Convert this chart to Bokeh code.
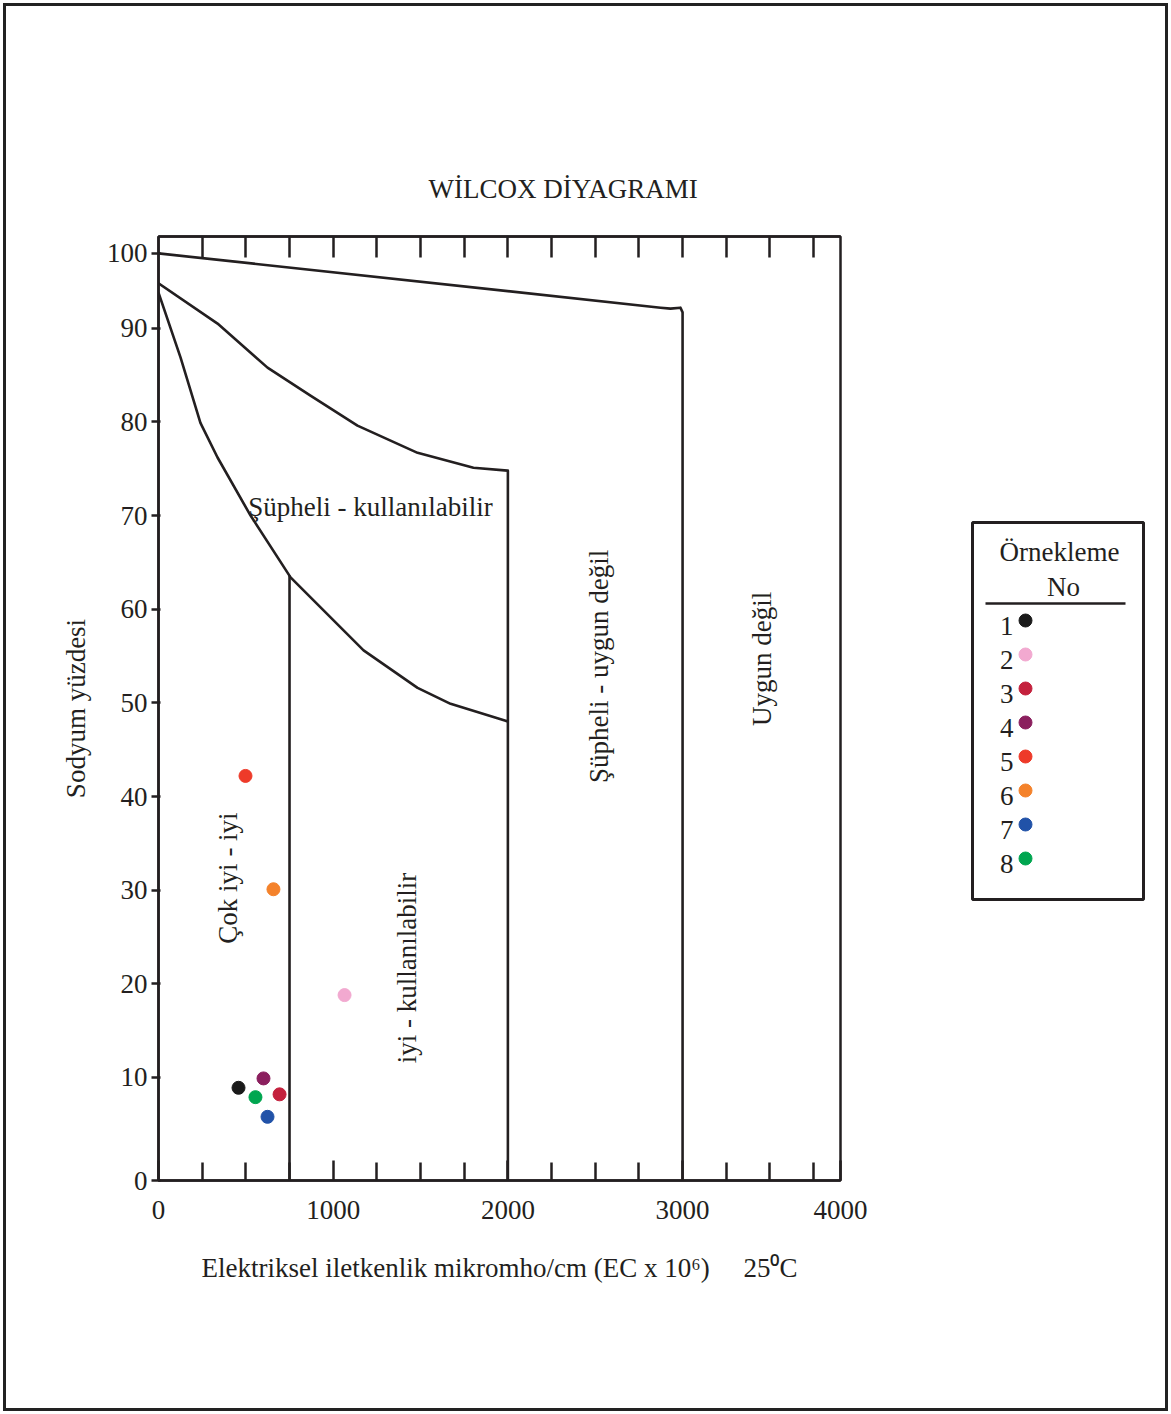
import numpy as np
from bokeh.plotting import figure
from bokeh.layouts import row
from bokeh.models import Range1d, FixedTicker, LinearAxis, Label, Title
from bokeh.core.properties import value
from bokeh.embed import file_html
from bokeh.resources import INLINE

# ---- sample data: EC (micromho/cm) and sodium percentage ----
sample_no = ["1", "2", "3", "4", "5", "6", "7", "8"]
ec = [458, 1065, 693, 601, 498, 658, 624, 555]
na_pct = [8.9, 18.8, 8.2, 9.9, 42.2, 30.1, 5.8, 7.9]
sample_colors = ["#1a1a1a", "#f2a9d0", "#c4213d", "#8b1f5e",
                 "#ee3a29", "#f4822b", "#2152a8", "#00a650"]

# ---- Wilcox class boundaries ----
top_ec = [0, 2874, 2931, 2988, 3000, 3000]
top_na = [98.0, 92.2, 92.1, 92.2, 91.7, -1]
mid_ec = [0, 338, 624, 870, 1139, 1483, 1803, 1998, 2000, 2000]
mid_na = [94.8, 90.5, 85.8, 82.8, 79.6, 76.7, 75.1, 74.8, 74.8, -1]
low_ec = [0, 126, 240, 338, 527, 756, 1174, 1483, 1672, 1987, 2000]
low_na = [93.8, 86.9, 79.9, 76.2, 70.0, 63.4, 55.6, 51.6, 49.9, 48.1, 48.0]
div_ec = [750, 750]
div_na = [63.6, -1]

# ---- axis ticks ----
y_ticks = [-1, 10, 20, 30, 40, 50, 60, 70, 80, 90, 98]
y_tick_labels = ["0", "10", "20", "30", "40", "50", "60", "70", "80", "90", "100"]
x_ticks = [0, 1000, 2000, 3000, 3904]
x_tick_labels = ["0", "1000", "2000", "3000", "4000"]
x_minor = [250, 500, 750, 1250, 1500, 1750, 2250, 2500, 2750, 3250, 3500, 3750]
x_top_ticks = [250, 500, 750, 1000, 1250, 1500, 1750, 2000,
               2250, 2500, 2750, 3000, 3250, 3500, 3750]

FONT = "Liberation Serif"
INK = "#231f20"

H = 1414
MAIN_W = 950
FL, FR, FT, FB = 158, 840, 236, 1180          # plot frame in canvas pixels
X0, X1 = 0, 3904
Y0, Y1 = -1, 99.8

p = figure(width=MAIN_W, height=H, x_range=Range1d(X0, X1), y_range=Range1d(Y0, Y1),
           x_axis_type=None, y_axis_type=None, output_backend="svg",
           toolbar_location=None, title=None,
           min_border_left=FL, min_border_right=MAIN_W - FR,
           min_border_top=FT, min_border_bottom=H - FB)
p.outline_line_color = INK
p.outline_line_width = 2.5
p.background_fill_color = "white"
p.border_fill_alpha = 0

# ---- axes ----
left = LinearAxis(ticker=FixedTicker(ticks=y_ticks, minor_ticks=[]),
                  major_label_overrides=dict(zip(y_ticks, y_tick_labels)),
                  axis_label="Sodyum yüzdesi")
left.major_tick_out = 7
left.major_tick_in = 2
left.major_label_standoff = 4
left.minor_tick_in = 0
left.minor_tick_out = 0
left.axis_label_standoff = 13
p.add_layout(left, "left")

nb = "\u00a0"
bottom = LinearAxis(ticker=FixedTicker(ticks=x_ticks, minor_ticks=x_minor),
                    major_label_overrides=dict(zip(x_ticks, x_tick_labels)),
                    axis_label="Elektriksel iletkenlik mikromho/cm (EC x 10\u2076)"
                               + nb * 5 + "25\u2070C")
bottom.major_tick_in = 20
bottom.major_tick_out = 0
bottom.minor_tick_in = 18
bottom.minor_tick_out = 0
bottom.major_label_standoff = 20
bottom.axis_label_standoff = 31
p.add_layout(bottom, "below")

# top edge carries tick marks only
top = LinearAxis(ticker=FixedTicker(ticks=[], minor_ticks=x_top_ticks))
top.major_tick_in = 0
top.major_tick_out = 0
top.minor_tick_in = 21
top.minor_tick_out = 0
p.add_layout(top, "above")

for ax in (left, bottom, top):
    ax.axis_line_color = INK
    ax.axis_line_width = 2.5
    ax.major_tick_line_color = INK
    ax.minor_tick_line_color = INK
    ax.major_tick_line_width = 2.5
    ax.minor_tick_line_width = 2.5
    ax.major_label_text_font = FONT
    ax.major_label_text_color = INK
    ax.axis_label_text_font = FONT
    ax.axis_label_text_font_size = "27px"
    ax.axis_label_text_font_style = "normal"
    ax.axis_label_text_color = INK
for ax in (left, bottom):
    ax.major_label_text_font_size = "27px"

p.add_layout(Title(text="WİLCOX DİYAGRAMI", align="left", offset=270, standoff=66,
                   text_font=FONT, text_font_size="27px", text_font_style="normal",
                   text_color=INK), "above")

# ---- boundary lines ----
for xs, ys in ((top_ec, top_na), (mid_ec, mid_na), (low_ec, low_na), (div_ec, div_na)):
    p.line(xs, ys, line_color=INK, line_width=2.6, line_join="round")

# ---- samples ----
p.scatter(ec, na_pct, size=13, marker="circle",
          fill_color=sample_colors, line_color=sample_colors)

# ---- class names ----
def zone(text, x, y, angle=0.0):
    p.add_layout(Label(x=x, y=y, text=text, text_font=FONT, text_font_size="27px",
                       text_color=INK, text_align="center", text_baseline="middle",
                       angle=angle))


zone("Şüpheli - kullanılabilir", 1213, 70.9)
zone("Çok iyi - iyi", 400, 31.3, np.pi / 2)
zone("iyi - kullanılabilir", 1425, 21.7, np.pi / 2)
zone("Şüpheli - uygun değil", 2519, 53.9, np.pi / 2)
zone("Uygun değil", 3457, 54.7, np.pi / 2)

# ---- sample legend (own small panel to the right, rows counted downwards) ----
LW = 1171 - MAIN_W
ROW0, ROW_H = 620, 34
row_idx = list(range(len(sample_no)))


def rows(py):
    return (py - ROW0) / ROW_H


lg = figure(width=LW, height=H,
            x_range=Range1d(0, LW), y_range=Range1d(rows(FB), rows(FT)),
            x_axis_type=None, y_axis_type=None, output_backend="svg",
            toolbar_location=None, title=None,
            min_border_left=0, min_border_right=0,
            min_border_top=FT, min_border_bottom=H - FB)
lg.outline_line_color = None
lg.background_fill_alpha = 0
lg.border_fill_alpha = 0

lg.quad(left=[22], right=[193], top=[rows(522)], bottom=[rows(899)],
        fill_color=None, line_color=INK, line_width=3)
lg.text(x=[109, 113], y=[rows(551), rows(586)], text=["Örnekleme", "No"],
        text_font=value(FONT), text_font_size="27px", text_color=INK,
        text_align="center", text_baseline="middle")
lg.segment(x0=[35], y0=[rows(603)], x1=[175], y1=[rows(603)],
           line_color=INK, line_width=2.5)
lg.text(x=[63] * len(sample_no), y=[i + 0.15 for i in row_idx], text=sample_no,
        text_font=value(FONT), text_font_size="27px", text_color=INK,
        text_align="right", text_baseline="middle")
lg.scatter(x=[75] * len(sample_no), y=row_idx, size=13, marker="circle",
           fill_color=sample_colors, line_color=sample_colors)

layout = row(p, lg, spacing=0,
             styles={"outline": "3px solid #222222", "outline-offset": "-6px"})

open("out.html", "w").write(file_html(layout, INLINE))
